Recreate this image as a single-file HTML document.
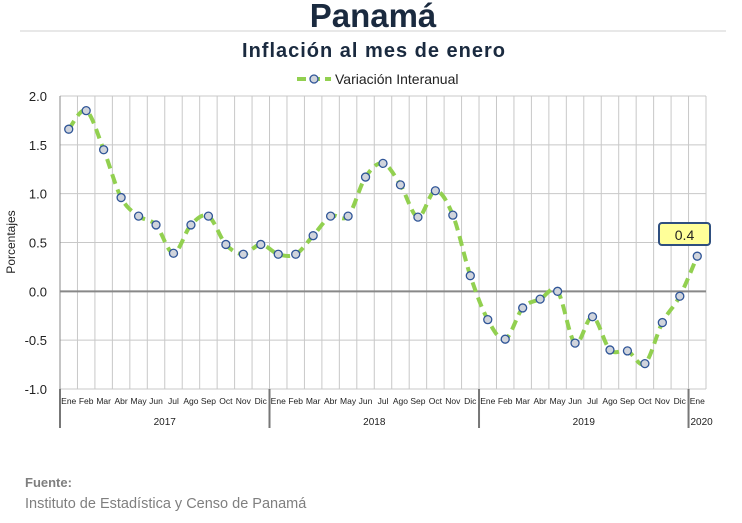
<!DOCTYPE html>
<html><head><meta charset="utf-8"><style>
body{margin:0;background:#fff;width:742px;height:518px;overflow:hidden;font-family:"Liberation Sans",sans-serif}
</style></head><body>
<svg width="742" height="518" font-family="Liberation Sans, sans-serif">
<text x="373" y="27" text-anchor="middle" font-size="33" font-weight="bold" fill="#1a2a3f">Panamá</text>
<line x1="20" y1="31" x2="726" y2="31" stroke="#d0d0d0"/>
<text x="374" y="57" text-anchor="middle" font-size="20" font-weight="bold" letter-spacing="1" fill="#1a2a3f">Inflación al mes de enero</text>
<g>
<line x1="297" y1="79" x2="331" y2="79" stroke="#92d050" stroke-width="4" stroke-dasharray="9,5"/>
<circle cx="314" cy="79" r="4" fill="#d0d4dc" stroke="#2f5597" stroke-width="1.3"/>
<text x="335" y="84" font-size="14" fill="#222">Variación Interanual</text>
</g>
<g id="grid"></g><g id="axes"></g><g id="series"></g>
<text transform="translate(15,242) rotate(-90)" text-anchor="middle" font-size="12" fill="#222">Porcentajes</text>
<g>
<rect x="659" y="223" width="51" height="22" rx="3" fill="#ffff99" stroke="#2f4f7f" stroke-width="2"/>
<text x="684.5" y="240" text-anchor="middle" font-size="14" fill="#222">0.4</text>
</g>
<text x="25" y="487" font-size="13" font-weight="bold" fill="#7f7f7f">Fuente:</text>
<text x="25" y="508" font-size="14.5" fill="#7f7f7f">Instituto de Estadística y Censo de Panamá</text>
</svg>
<script>
const months=["Ene","Feb","Mar","Abr","May","Jun","Jul","Ago","Sep","Oct","Nov","Dic","Ene","Feb","Mar","Abr","May","Jun","Jul","Ago","Sep","Oct","Nov","Dic","Ene","Feb","Mar","Abr","May","Jun","Jul","Ago","Sep","Oct","Nov","Dic","Ene"];
const years=["2017","2018","2019","2020"];
const yearStarts=[0,12,24,36];
const values=[1.66,1.85,1.45,0.96,0.77,0.68,0.39,0.68,0.77,0.48,0.38,0.48,0.38,0.38,0.57,0.77,0.77,1.17,1.31,1.09,0.76,1.03,0.78,0.16,-0.29,-0.49,-0.17,-0.08,0.0,-0.53,-0.26,-0.60,-0.61,-0.74,-0.32,-0.05,0.36];
const yTicks=[2.0,1.5,1.0,0.5,0.0,-0.5,-1.0];
const NS="http://www.w3.org/2000/svg";
const X0=60,X1=706,Y0=96,Y1=389,yMax=2,yMin=-1;
const bw=(X1-X0)/months.length;
function xs(i){return X0+bw*(i+0.5);}
function ys(v){return Y0+(yMax-v)/(yMax-yMin)*(Y1-Y0);}
function mk(t,a,p){const e=document.createElementNS(NS,t);for(const k in a)e.setAttribute(k,a[k]);p.appendChild(e);return e;}
const grid=document.getElementById('grid'),axes=document.getElementById('axes'),ser=document.getElementById('series');
for(let i=0;i<=months.length;i++){
 const l=mk('line',{x1:X0+bw*i,x2:X0+bw*i,y1:Y0,y2:Y1,stroke:'#c8c8c8','stroke-width':1},grid);
 
 
}
yTicks.forEach(v=>{
 const l=mk('line',{x1:X0,x2:X1,y1:ys(v),y2:ys(v),stroke:v===0?'#888':'#c8c8c8','stroke-width':v===0?2:1},grid);
 
 
 const t=mk('text',{x:X0-13,y:ys(v)+5,'text-anchor':'end','font-size':13,fill:'#222'},axes);
 t.textContent=v.toFixed(1);
 
 
});
mk('line',{x1:X0,x2:X0,y1:Y0,y2:Y1,stroke:'#888'},axes);
months.forEach((m,i)=>{
 const t=mk('text',{x:xs(i),y:404,'text-anchor':'middle','font-size':8.5,fill:'#222'},axes);
 t.textContent=m;
 
 
});
yearStarts.forEach((s,k)=>{
 const l=mk('line',{x1:X0+bw*s,x2:X0+bw*s,y1:Y1,y2:428,stroke:'#777','stroke-width':2},axes);
 
 
 const e=k<yearStarts.length-1?yearStarts[k+1]:months.length+0.5;
 const t=mk('text',{x:X0+bw*(s+e)/2,y:425,'text-anchor':'middle','font-size':10,fill:'#222'},axes);
 t.textContent=years[k];
 
 
});
const pts=values.map((v,i)=>[xs(i),ys(v)]);
let d='M'+pts[0][0]+','+pts[0][1];
for(let i=0;i<pts.length-1;i++){
 const p0=pts[Math.max(0,i-1)],p1=pts[i],p2=pts[i+1],p3=pts[Math.min(pts.length-1,i+2)];
 const c1=[p1[0]+(p2[0]-p0[0])/6,p1[1]+(p2[1]-p0[1])/6],c2=[p2[0]-(p3[0]-p1[0])/6,p2[1]-(p3[1]-p1[1])/6];
 d+=` C${c1[0]},${c1[1]} ${c2[0]},${c2[1]} ${p2[0]},${p2[1]}`;
}
const path=mk('path',{d:d,fill:'none',stroke:'#92d050','stroke-width':4,'stroke-dasharray':'10,6'},ser);


pts.forEach(p=>{
 const c=mk('circle',{cx:p[0],cy:p[1],r:4,fill:'#d0d4dc',stroke:'#2f5597','stroke-width':1.3},ser);
 
 
});
</script>
</body></html>
